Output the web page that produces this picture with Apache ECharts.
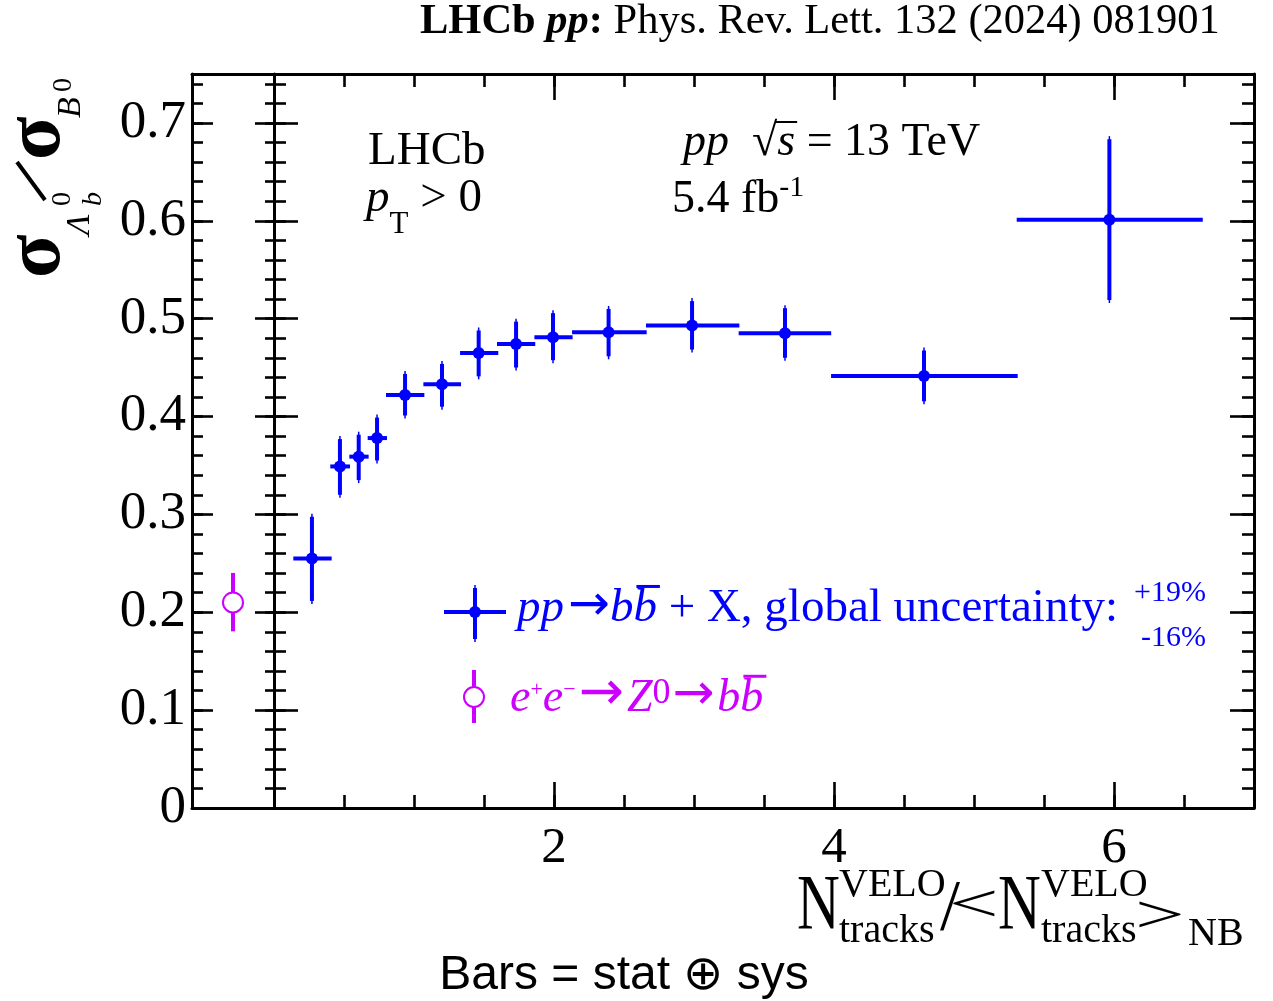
<!DOCTYPE html>
<html><head><meta charset="utf-8">
<script src="https://cdn.jsdelivr.net/npm/echarts@6/dist/echarts.min.js"></script>
<style>html,body{margin:0;padding:0;background:#fff}#c{width:1273px;height:1001px}</style>
</head><body><div id="c"></div>
<script>
// ---- data ----
const xCenter = [0.271, 0.471, 0.605, 0.736, 0.936, 1.200, 1.462, 1.729, 1.993, 2.390, 2.986, 3.650, 4.643, 5.967];
const xLow    = [0.138, 0.402, 0.538, 0.669, 0.800, 1.067, 1.329, 1.593, 1.860, 2.129, 2.657, 3.319, 3.979, 5.305];
const xHigh   = [0.412, 0.543, 0.676, 0.807, 1.074, 1.336, 1.602, 1.866, 2.133, 2.662, 3.324, 3.980, 5.312, 6.634];
const ratio   = [0.255, 0.349, 0.359, 0.378, 0.422, 0.433, 0.465, 0.474, 0.481, 0.486, 0.493, 0.485, 0.4415, 0.601];
const ratioLo = [0.2085, 0.317, 0.332, 0.352, 0.398, 0.407, 0.438, 0.447, 0.4545, 0.4585, 0.4654, 0.457, 0.4125, 0.516];
const ratioHi = [0.3006, 0.380, 0.3845, 0.402, 0.4466, 0.4568, 0.491, 0.500, 0.5087, 0.513, 0.521, 0.5138, 0.4705, 0.6865];
const eeX  = [0.5];
const eeY  = [0.210];
const eeLo = [0.1805];
const eeHi = [0.2402];
const xTickLabels = [2, 4, 6];

const BLUE = '#0000ff', MAG = '#cc00ff';
const SERIF = '"Liberation Serif", "Times New Roman", serif';
const SANS = '"Liberation Sans", Arial, sans-serif';
const ARR = '"DejaVu Sans", sans-serif';

const mctx = document.createElement('canvas').getContext('2d');
function fnt(p){ return (p.i?'italic ':'')+(p.b?'bold ':'')+p.s+'px '+(p.ff||SERIF); }
function tw(t,f){ mctx.font=f; return mctx.measureText(t).width; }
function T(x, yb, text, s, o){
  o = o || {};
  const f = fnt({i:o.i,b:o.b,s:s,ff:o.ff});
  const el = {type:'text', x:x, y:yb - 0.3375*s, z:100,
    style:{text:text, font:f, fill:o.c||'#000', textAlign:o.align||'left', align:o.align||'left',
           textVerticalAlign:'middle', verticalAlign:'middle'}};
  if (o.sx) el.scaleX = o.sx;
  if (o.sy) el.scaleY = o.sy;
  return el;
}
function run(x, yb, pieces, c, s0){
  const out=[]; let cx=x;
  for(const p of pieces){
    const s = p.s||s0;
    cx += p.dx||0;
    const f = fnt({i:p.i,b:p.b,s:s,ff:p.ff});
    out.push(T(cx, yb+(p.dy||0), p.t, s, {i:p.i,b:p.b,c:c,ff:p.ff}));
    const wd = tw(p.t,f);
    if(p.bar){
      const yy = yb+(p.dy||0)-0.82*s;
      out.push({type:'line', z:100, shape:{x1:cx+3, y1:yy, x2:cx+wd+3, y2:yy}, style:{stroke:c, lineWidth:3}});
    }
    if(!p.stack) cx += wd + (p.ax||0);
  }
  return out;
}

const ppData = xCenter.map((x,i)=>[x, ratio[i], xLow[i], xHigh[i], ratioLo[i], ratioHi[i]]);
const eeData = eeX.map((x,i)=>[x, eeY[i], eeLo[i], eeHi[i]]);

function renderPP(params, api){
  const x=api.value(0), y=api.value(1);
  const c=api.coord([x,y]);
  const xl=api.coord([api.value(2),y])[0], xh=api.coord([api.value(3),y])[0];
  const yl=api.coord([x,api.value(4)])[1], yh=api.coord([x,api.value(5)])[1];
  return {type:'group', children:[
    {type:'line', shape:{x1:xl,y1:c[1],x2:xh,y2:c[1]}, style:{stroke:BLUE,lineWidth:4}},
    {type:'line', shape:{x1:c[0],y1:yl,x2:c[0],y2:yh}, style:{stroke:BLUE,lineWidth:1.5}},
    {type:'line', shape:{x1:c[0],y1:yl-3,x2:c[0],y2:yh+3}, style:{stroke:BLUE,lineWidth:4}},
    {type:'circle', shape:{cx:c[0],cy:c[1],r:6}, style:{fill:BLUE}}
  ]};
}
function renderEE(params, api){
  const x=api.value(0), y=api.value(1);
  const c=api.coord([x,y]);
  const yl=api.coord([x,api.value(2)])[1], yh=api.coord([x,api.value(3)])[1];
  return {type:'group', children:[
    {type:'line', shape:{x1:c[0],y1:yl,x2:c[0],y2:yh}, style:{stroke:MAG,lineWidth:4}},
    {type:'circle', shape:{cx:c[0],cy:c[1],r:10}, style:{fill:'#fff', stroke:MAG, lineWidth:2}}
  ]};
}

const LW = 3, TW = 2.6;
function xAx(grid, pos, max, interval, len, line, labels){
  return {type:'value', gridIndex:grid, position:pos, min:0, max:max, interval:interval,
    axisLine:{show:line, onZero:false, lineStyle:{color:'#000', width:LW}},
    axisTick:{show:len>0, inside:true, length:len, lineStyle:{color:'#000', width:TW}},
    axisLabel: labels ? {show:true, fontFamily:SERIF, fontSize:51, color:'#000', margin:15,
      formatter:v => xTickLabels.indexOf(v)>=0 ? String(v) : ''} : {show:false},
    splitLine:{show:false}};
}
function yAx(grid, pos, interval, len, inside, line, labels){
  return {type:'value', gridIndex:grid, position:pos, min:0, max:0.75, interval:interval,
    axisLine:{show:line, onZero:false, lineStyle:{color:'#000', width:LW}},
    axisTick:{show:true, inside:inside, length:len, lineStyle:{color:'#000', width:TW}},
    axisLabel: labels ? {show:true, fontFamily:SERIF, fontSize:53, color:'#000', margin:6,
      formatter:v => { const r=Math.round(v*10); if(Math.abs(v*10-r)>1e-6) return ''; return r===0?'0':(r/10).toFixed(1); }} : {show:false},
    splitLine:{show:false}};
}

// ---- texts ----
const G = [];
// header
(function(){
  const hp = [{t:'LHCb ',b:true},{t:'pp',b:true,i:true},{t:':',b:true},{t:' Phys. Rev. Lett. 132 (2024) 081901'}];
  let w=0; hp.forEach(p=>{ w += tw(p.t, fnt({i:p.i,b:p.b,s:36})); });
  const hs = 36*800/w;
  run(420, 36, hp, '#000', hs).forEach(e=>G.push(e));
})();
// in-plot texts
G.push(T(368, 168, 'LHCb', 47));
run(366, 215, [{t:'p',i:true},{t:'T',s:31,dy:20},{t:' > 0'}], '#000', 47).forEach(e=>G.push(e));
(function(){
  const s=46; let x=683;
  G.push(T(x,158,'pp',s,{i:true})); x += tw('pp',fnt({i:true,s:s}));
  x += tw('  ',fnt({s:s}));
  G.push(T(x,158,'√',s)); const xr = x + tw('√',fnt({s:s}));
  x = xr;
  G.push(T(x,158,'s',s,{i:true})); const xs = x + tw('s',fnt({i:true,s:s}));
  G.push({type:'line', z:100, shape:{x1:xr-2, y1:122, x2:xs+2, y2:122}, style:{stroke:'#000', lineWidth:2}});
  G.push(T(xs,158,' = 13 TeV',s));
})();
run(672, 215, [{t:'5.4 fb'},{t:'-1',s:30,dy:-17}], '#000', 46).forEach(e=>G.push(e));

// legend
G.push({type:'line', z:100, shape:{x1:444,y1:612,x2:506,y2:612}, style:{stroke:BLUE,lineWidth:4}});
G.push({type:'line', z:100, shape:{x1:475,y1:585,x2:475,y2:642}, style:{stroke:BLUE,lineWidth:1.5}});
G.push({type:'line', z:100, shape:{x1:475,y1:588,x2:475,y2:639}, style:{stroke:BLUE,lineWidth:4}});
G.push({type:'circle', z:101, shape:{cx:475,cy:612,r:6}, style:{fill:BLUE}});
run(517, 625, [{t:'pp',i:true,ax:4},{t:'→',ff:ARR,s:50,dy:-1},{t:'b',i:true},{t:'b',i:true,bar:true},{t:' + X, global uncertainty:'}], BLUE, 47).forEach(e=>G.push(e));
G.push(T(1206, 603, '+19%', 30, {align:'right', c:BLUE}));
G.push(T(1206, 648, '-16%', 30, {align:'right', c:BLUE}));
G.push({type:'line', z:100, shape:{x1:474,y1:670,x2:474,y2:723}, style:{stroke:MAG,lineWidth:4}});
G.push({type:'circle', z:101, shape:{cx:474,cy:697,r:10}, style:{fill:'#fff',stroke:MAG,lineWidth:2}});
run(510, 714, [{t:'e',i:true},{t:'+',s:22,dy:-16},{t:'e',i:true},{t:'−',s:22,dy:-16,ax:3},{t:'→',ff:ARR,s:54,dy:-1,ax:3},{t:'Z',i:true},{t:'0',s:36,dy:-8,ax:2},{t:'→',ff:ARR,s:50,dy:-1,ax:3},{t:'b',i:true},{t:'b',i:true,bar:true}], MAG, 46).forEach(e=>G.push(e));

// x-axis title
G.push(T(797, 934, 'N', 78, {sx:0.76}));
G.push(T(839, 899, 'VELO', 40));
G.push(T(839, 945, 'tracks', 40));
G.push(T(940, 934, '/', 72));
G.push(Object.assign(T(949, 0, '<', 88, {sy:0.6}), {y:907}));
G.push(T(998, 934, 'N', 78, {sx:0.76}));
G.push(T(1041, 899, 'VELO', 40));
G.push(T(1041, 945, 'tracks', 40));
G.push(Object.assign(T(1135, 0, '>', 88, {sy:0.6}), {y:918}));
G.push(T(1188, 948, 'NB', 40));

// y-axis title (rotated group)
G.push({type:'group', x:65, y:280, rotation:Math.PI/2, z:100, children:[
  T(2, 0, 'σ', 80, {b:true}),
  T(45, 27, 'Λ', 34, {i:true}),
  T(74, 7, '0', 28),
  T(74, 38, 'b', 28, {i:true}),
  {type:'line', shape:{x1:80,y1:-20,x2:118,y2:-48}, style:{stroke:'#000', lineWidth:4}},
  T(120, 0, 'σ', 80, {b:true}),
  T(162, 18, 'B', 34, {i:true}),
  T(188, 8, '0', 28)
]});

// bottom note
G.push(T(624, 992, 'Bars = stat ⊕ sys', 48, {ff:SANS, align:'center'}));

const chart = echarts.init(document.getElementById('c'));
chart.setOption({
  animation:false,
  backgroundColor:'#fff',
  grid:[
    {left:192, top:74, width:82, height:734, outerBoundsMode:'none'},
    {left:274, top:74, width:980, height:734, outerBoundsMode:'none'}
  ],
  xAxis:[
    xAx(0,'bottom',1,1,0,true,false),
    xAx(0,'top',1,1,0,true,false),
    xAx(1,'bottom',7,0.5,13,true,true),
    xAx(1,'bottom',7,2,26,false,false),
    xAx(1,'top',7,0.5,13,true,false),
    xAx(1,'top',7,2,26,false,false)
  ],
  yAxis:[
    yAx(0,'left',0.1,21,true,true,true),
    yAx(0,'left',0.02,11,true,false,false),
    yAx(1,'left',0.02,12,true,true,false),
    yAx(1,'left',0.1,24,true,false,false),
    yAx(1,'left',0.02,9,false,false,false),
    yAx(1,'left',0.1,19,false,false,false),
    yAx(1,'right',0.02,12,true,true,false),
    yAx(1,'right',0.1,24,true,false,false)
  ],
  series:[
    {type:'custom', xAxisIndex:2, yAxisIndex:2, renderItem:renderPP, data:ppData, z:10},
    {type:'custom', xAxisIndex:0, yAxisIndex:0, renderItem:renderEE, data:eeData, z:10}
  ],
  graphic:G
});
</script></body></html>
